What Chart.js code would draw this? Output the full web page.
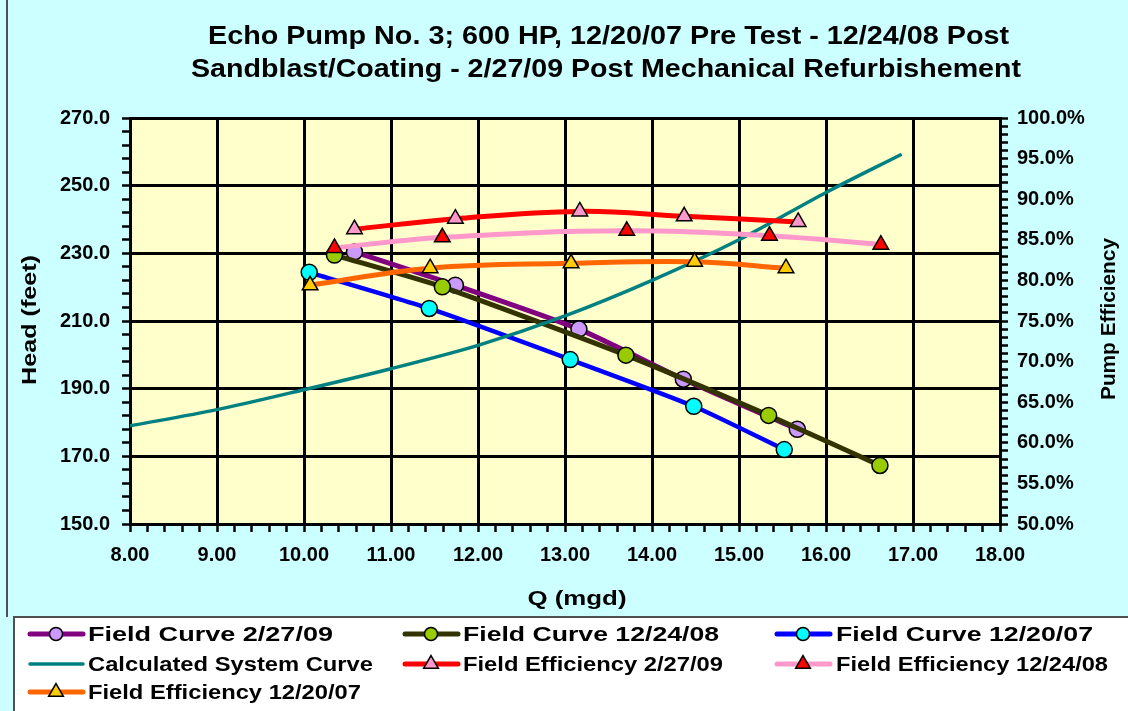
<!DOCTYPE html>
<html>
<head>
<meta charset="utf-8">
<title>Echo Pump No. 3</title>
<script src="https://cdn.jsdelivr.net/npm/chart.js@4.4.1/dist/chart.umd.min.js"></script>
<style>
  html, body { margin: 0; padding: 0; background: #ccffff; }
  canvas { display: block; }
</style>
</head>
<body>
<canvas id="pump" width="1128" height="711"></canvas>
<script>
// Echo Pump No. 3 — field head curves, system curve and efficiency vs flow
const FONT = 'Arial, "Liberation Sans", sans-serif';

const titleLines = [
  'Echo Pump No. 3; 600 HP, 12/20/07 Pre Test - 12/24/08 Post',
  'Sandblast/Coating - 2/27/09 Post Mechanical Refurbishement'
];
const xTitle = 'Q (mgd)';
const yTitle = 'Head (feet)';
const y2Title = 'Pump Efficiency';

// axis ranges: [min, max, minor step, major step]
const xAxisRange = [8, 18, 0.2, 1];
const yAxisRange = [150, 270, 4, 20];
const y2AxisRange = [50, 100, 1, 5];

// field head curves (Q in mgd, head in ft)
const q090227 = [10.58, 11.74, 13.16, 14.36, 15.67];
const head090227 = [230.4, 220.6, 207.6, 192.8, 178.0];
const q081224 = [10.35, 11.59, 13.70, 15.34, 16.62];
const head081224 = [229.5, 220.1, 199.9, 182.1, 167.3];
const q071220 = [10.06, 11.44, 13.06, 14.48, 15.52];
const head071220 = [224.4, 213.7, 198.6, 184.8, 172.0];

// calculated system curve
const qSystem = [8.0, 9.0, 10.0, 11.0, 12.0, 13.0, 14.0, 15.0, 16.0, 16.87];
const headSystem = [179.0, 183.8, 189.7, 195.9, 202.8, 211.5, 222.0, 234.0, 248.0, 259.3];

// field efficiency (%)
const qEff090227 = [10.58, 11.74, 13.17, 14.37, 15.68];
const eff090227 = [86.3, 87.6, 88.5, 87.9, 87.2];
const qEff081224 = [10.35, 11.59, 13.71, 15.35, 16.63];
const eff081224 = [84.0, 85.3, 86.1, 85.5, 84.4];
const qEff071220 = [10.07, 11.45, 13.07, 14.49, 15.54];
const eff071220 = [79.4, 81.5, 82.1, 82.3, 81.5];

const pts = (xs, ys) => xs.map((x, i) => ({ x, y: ys[i] }));

function series(label, xs, ys, line, fill, style, axis, width, tension) {
  return {
    label,
    data: pts(xs, ys),
    yAxisID: axis,
    borderColor: line,
    borderWidth: width,
    tension,
    pointStyle: style || 'circle',
    pointRadius: style ? (style === 'triangle' ? 9 : 8) : 0,
    pointBackgroundColor: fill,
    pointBorderColor: '#000',
    pointBorderWidth: 1.5,
    fill: false
  };
}

const datasets = [
  series('Field Curve 2/27/09', q090227, head090227, '#800080', '#cc99ff', 'circle', 'y', 5, 0.2),
  series('Field Curve 12/24/08', q081224, head081224, '#333300', '#99cc00', 'circle', 'y', 5, 0.2),
  series('Field Curve 12/20/07', q071220, head071220, '#0000ff', '#00ffff', 'circle', 'y', 4.5, 0.2),
  series('Calculated System Curve', qSystem, headSystem, '#008080', null, null, 'y', 3.5, 0.3),
  series('Field Efficiency 2/27/09', qEff090227, eff090227, '#ff0000', '#ff99cc', 'triangle', 'y2', 5, 0.4),
  series('Field Efficiency 12/24/08', qEff081224, eff081224, '#ff99cc', '#ff0000', 'triangle', 'y2', 5, 0.4),
  series('Field Efficiency 12/20/07', qEff071220, eff071220, '#ff6600', '#ffcc00', 'triangle', 'y2', 5, 0.4)
];
// later series drawn on top, like the original spreadsheet
datasets.forEach((d, i) => { d.order = datasets.length - i; });

const tickFont = { family: FONT, size: 20, weight: 'bold' };

// is v a major tick of the range (counted from the axis minimum)
function isMajor(range, v) {
  const k = (v - range[0]) / range[3];
  return Math.abs(k - Math.round(k)) < 1e-6;
}

function axis(range, pos, gridInside, extra) {
  const [min, max, minor] = range;
  return Object.assign({
    type: 'linear',
    position: pos,
    min, max,
    grid: {
      drawOnChartArea: gridInside,
      color: ctx => (ctx.tick && isMajor(range, ctx.tick.value) ? '#000' : 'rgba(0,0,0,0)'),
      lineWidth: 3,
      tickColor: '#000',
      tickWidth: 2.5,
      tickLength: 8
    },
    border: { display: true, color: '#000', width: 3 },
    afterBuildTicks: s => {
      const n = Math.round((max - min) / minor);
      const ticks = [];
      for (let i = 0; i <= n; i++) ticks.push({ value: Math.round((min + i * minor) * 1000) / 1000 });
      s.ticks = ticks;
    }
  }, extra);
}

// fit text to a measured width by stretching horizontally
function fitText(ctx, text, cx, y, w, rot) {
  ctx.save();
  ctx.translate(cx, y);
  if (rot) ctx.rotate(rot);
  const m = ctx.measureText(text).width;
  ctx.scale(w / m, 1);
  ctx.fillText(text, -m / 2, 0);
  ctx.restore();
}

function marker(ctx, style, x, y, r, fill) {
  ctx.save();
  ctx.fillStyle = fill;
  ctx.strokeStyle = '#000';
  ctx.lineWidth = 1.5;
  ctx.beginPath();
  if (style === 'triangle') {
    ctx.moveTo(x, y - r);
    ctx.lineTo(x + r * 0.866, y + r * 0.5);
    ctx.lineTo(x - r * 0.866, y + r * 0.5);
    ctx.closePath();
  } else {
    ctx.arc(x, y, r, 0, Math.PI * 2);
  }
  ctx.fill();
  ctx.stroke();
  ctx.restore();
}

const backdrop = {
  id: 'backdrop',
  beforeDraw(chart) {
    const { ctx, chartArea: a, width, height } = chart;
    ctx.save();
    ctx.fillStyle = '#ccffff';
    ctx.fillRect(0, 0, width, height);
    ctx.fillStyle = '#ffffcc';
    ctx.fillRect(a.left, a.top, a.right - a.left, a.bottom - a.top);
    ctx.strokeStyle = '#505050';
    ctx.lineWidth = 2;
    ctx.beginPath();
    ctx.moveTo(7, 0);
    ctx.lineTo(7, 617);
    ctx.stroke();
    ctx.fillStyle = '#ffffff';
    ctx.fillRect(14, 617, width, height);
    ctx.strokeRect(14, 617, width, height);
    ctx.restore();
  }
};

const texts = {
  id: 'texts',
  afterDraw(chart) {
    const ctx = chart.ctx;
    ctx.save();
    ctx.fillStyle = '#000';
    ctx.textBaseline = 'alphabetic';
    ctx.font = `bold 26px ${FONT}`;
    fitText(ctx, titleLines[0], 608.5, 43.5, 801);
    fitText(ctx, titleLines[1], 606, 77, 830);

    ctx.font = `bold 20px ${FONT}`;
    fitText(ctx, xTitle, 577, 605, 99);
    fitText(ctx, yTitle, 36, 320, 130, -Math.PI / 2);
    fitText(ctx, y2Title, 1115, 319, 162, -Math.PI / 2);

    // legend, three columns
    const lineX = [30, 405, 777];
    const textX = [88, 463, 836];
    const rowY = [634, 664, 692];
    const textW = [245, 256, 257, 285, 260, 272, 273];
    chart.data.datasets.forEach((d, i) => {
      const c = i % 3, r = Math.floor(i / 3);
      const y = rowY[r];
      ctx.strokeStyle = d.borderColor;
      ctx.lineWidth = d.borderWidth >= 4 ? 5 : 3.5;
      ctx.lineCap = 'round';
      ctx.beginPath();
      ctx.moveTo(lineX[c], y);
      ctx.lineTo(lineX[c] + 53, y);
      ctx.stroke();
      if (d.pointRadius > 0) {
        marker(ctx, d.pointStyle, lineX[c] + 26, y, d.pointStyle === 'triangle' ? 8.5 : 6.5, d.pointBackgroundColor);
      }
      ctx.fillStyle = '#000';
      fitText(ctx, d.label, textX[c] + textW[i] / 2, y + 7, textW[i]);
    });
    ctx.restore();
  }
};

new Chart(document.getElementById('pump'), {
  type: 'line',
  data: { datasets },
  plugins: [backdrop, texts],
  options: {
    responsive: false,
    animation: false,
    devicePixelRatio: 1,
    layout: { padding: { top: 118, left: 0, right: 0, bottom: 127 } },
    plugins: { legend: { display: false }, title: { display: false }, tooltip: { enabled: false } },
    scales: {
      x: axis(xAxisRange, 'bottom', true, {
        ticks: {
          autoSkip: false, maxRotation: 0, padding: 11,
          color: '#000', font: tickFont,
          callback: v => (isMajor(xAxisRange, v) ? Number(v).toFixed(2) : '')
        },
        afterFit: s => { s.height = 60; }
      }),
      y: axis(yAxisRange, 'left', true, {
        ticks: {
          autoSkip: false, padding: 12,
          color: '#000', font: tickFont,
          callback: v => (isMajor(yAxisRange, v) ? Number(v).toFixed(1) : '')
        },
        afterFit: s => { s.width = 130; }
      }),
      y2: axis(y2AxisRange, 'right', false, {
        ticks: {
          autoSkip: false, padding: 9,
          color: '#000', font: tickFont,
          callback: v => (isMajor(y2AxisRange, v) ? Number(v).toFixed(1) + '%' : '')
        },
        afterFit: s => { s.width = 128; }
      })
    }
  }
});
</script>
</body>
</html>
